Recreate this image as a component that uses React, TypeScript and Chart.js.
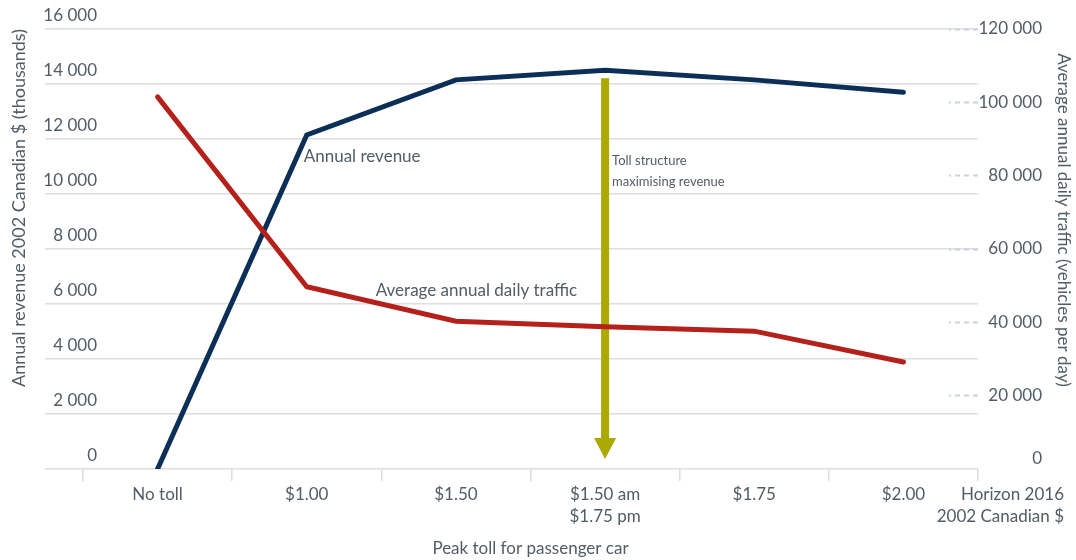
import React, { useEffect, useRef } from "react";
import { Chart, registerables } from "chart.js";

Chart.register(...registerables);

// Peak toll levels tested for the 2016 horizon (2002 Canadian $)
const tollLabels: (string | string[])[] = [
  "No toll",
  "$1.00",
  "$1.50",
  ["$1.50 am", "$1.75 pm"],
  "$1.75",
  "$2.00",
];

// Annual revenue, thousands of 2002 Canadian $
const annualRevenue = [0, 12150, 14150, 14500, 14150, 13700];

// Average annual daily traffic, vehicles per day
const dailyTraffic = [101500, 49700, 40300, 38800, 37600, 29200];

// Axis ranges and steps
const revenueMax = 16000;
const revenueStep = 2000;
const trafficMax = 120000;
const trafficStep = 20000;

// Toll level that maximises revenue
const bestTollIndex = 3;

const FONT = "Lato, 'Noto Sans', sans-serif";
const TEXT = "#525c65";
const NAVY = "#0b2f56";
const RED = "#b3211a";
const OLIVE = "#aca900";
const GRID = "#dedede";
const DASH = "#c9d3dd";
const TICK_SIZE = 17;

const W = 1076;
const H = 560;

const spaced = (v: number) =>
  String(v).replace(/\B(?=(\d{3})+(?!\d))/g, " ");

// Width of the widest revenue label, so the mirrored labels can be right-aligned
const widestRevenueLabel = (() => {
  const c = document.createElement("canvas").getContext("2d");
  if (!c) return 50;
  c.font = `${TICK_SIZE}px ${FONT}`;
  return c.measureText(spaced(revenueMax)).width;
})();

const notesPlugin = {
  id: "tollNotes",
  beforeDatasetsDraw(chart: any) {
    const { ctx, scales } = chart;
    const x = scales.x.getPixelForValue(bestTollIndex);
    const yTop = scales.yL.getPixelForValue(annualRevenue[bestTollIndex]) + 8;
    const yTip = scales.yL.getPixelForValue(0) - 10;
    const headLen = 21;
    const headHalf = 11;
    ctx.save();
    ctx.fillStyle = OLIVE;
    ctx.fillRect(x - 4, yTop, 8, yTip - headLen + 2 - yTop);
    ctx.beginPath();
    ctx.moveTo(x - headHalf, yTip - headLen);
    ctx.lineTo(x + headHalf, yTip - headLen);
    ctx.lineTo(x, yTip);
    ctx.closePath();
    ctx.fill();
    ctx.restore();
  },
  afterDraw(chart: any) {
    const { ctx, scales } = chart;
    const xs = scales.x;
    const yL = scales.yL;
    const yR = scales.yR;
    ctx.save();
    ctx.fillStyle = TEXT;
    ctx.textBaseline = "middle";

    ctx.font = `17px ${FONT}`;
    ctx.textAlign = "left";
    ctx.fillText(
      "Annual revenue",
      xs.getPixelForValue(1) - 3,
      yL.getPixelForValue(annualRevenue[1]) + 22
    );
    ctx.fillText(
      "Average annual daily traffic",
      xs.getPixelForValue(1) + 69,
      yR.getPixelForValue(dailyTraffic[1]) + 4
    );

    ctx.font = `13px ${FONT}`;
    const bx = xs.getPixelForValue(bestTollIndex) + 7;
    const by = yL.getPixelForValue(annualRevenue[bestTollIndex]);
    ctx.fillText("Toll structure", bx, by + 91);
    ctx.fillText("maximising revenue", bx, by + 112);

    // Horizon note beside the category axis
    ctx.font = `17px ${FONT}`;
    ctx.textAlign = "right";
    const base = yL.getPixelForValue(0);
    ctx.fillText("Horizon 2016", W - 12, base + 26);
    ctx.fillText("2002 Canadian $", W - 12, base + 48);

    // Right axis title
    ctx.font = `17px ${FONT}`;
    ctx.textAlign = "center";
    ctx.translate(W - 13, 220);
    ctx.rotate(Math.PI / 2);
    ctx.fillText("Average annual daily traffic (vehicles per day)", 0, 0);
    ctx.restore();
  },
};

export default function App() {
  const ref = useRef<HTMLCanvasElement | null>(null);

  useEffect(() => {
    if (!ref.current) return;
    const chart = new Chart(ref.current, {
      type: "line",
      data: {
        labels: tollLabels,
        datasets: [
          {
            label: "Annual revenue",
            data: annualRevenue,
            yAxisID: "yL",
            borderColor: NAVY,
            borderWidth: 5,
            borderCapStyle: "round",
            borderJoinStyle: "miter",
            pointRadius: 0,
            tension: 0,
            order: 2,
          },
          {
            label: "Average annual daily traffic",
            data: dailyTraffic,
            yAxisID: "yR",
            borderColor: RED,
            borderWidth: 5,
            borderCapStyle: "round",
            borderJoinStyle: "miter",
            pointRadius: 0,
            tension: 0,
            order: 1,
          },
        ],
      },
      options: {
        animation: false,
        responsive: false,
        devicePixelRatio: 1,
        layout: { padding: { top: 29, left: 0, right: 34, bottom: 0 } },
        plugins: {
          legend: { display: false },
          tooltip: { enabled: false },
        },
        scales: {
          x: {
            type: "category",
            offset: true,
            border: { display: false },
            grid: {
              offset: true,
              drawOnChartArea: false,
              drawTicks: true,
              tickLength: 12,
              color: GRID,
              lineWidth: 1.5,
            },
            ticks: {
              color: TEXT,
              font: { family: FONT, size: TICK_SIZE, lineHeight: 1.3 },
              padding: 2,
              maxRotation: 0,
              autoSkip: false,
            },
            title: {
              display: true,
              text: "Peak toll for passenger car",
              color: TEXT,
              font: { family: FONT, size: 17 },
              padding: { top: 0, bottom: 1 },
            },
            afterFit: (s: any) => {
              s.height = 91;
            },
          },
          yL: {
            type: "linear",
            position: "left",
            min: 0,
            max: revenueMax,
            border: { display: false },
            grid: {
              color: GRID,
              lineWidth: 1.5,
              drawTicks: true,
              tickLength: 38,
            },
            ticks: {
              stepSize: revenueStep,
              color: TEXT,
              font: { family: FONT, size: TICK_SIZE },
              mirror: true,
              crossAlign: "far",
              padding: 14 - widestRevenueLabel,
              labelOffset: -13,
              callback: (v: any) => spaced(Number(v)),
            },
            title: {
              display: true,
              text: "Annual revenue 2002 Canadian $ (thousands)",
              align: "end",
              color: TEXT,
              font: { family: FONT, size: 18 },
              padding: { top: 8, bottom: 0 },
            },
            afterFit: (s: any) => {
              s.width = 83;
            },
          },
          yR: {
            type: "linear",
            position: "right",
            min: 0,
            max: trafficMax,
            border: { display: false },
            grid: {
              drawOnChartArea: false,
              drawTicks: true,
              tickLength: -29,
              tickWidth: 2,
              tickBorderDash: [5, 4],
              tickColor: (c: any) =>
                c.tick && c.tick.value === 0 ? "rgba(0,0,0,0)" : DASH,
            },
            ticks: {
              stepSize: trafficStep,
              color: TEXT,
              font: { family: FONT, size: TICK_SIZE },
              crossAlign: "far",
              padding: 0,
              callback: (v: any) =>
                Number(v) === 0 ? ["0", ""] : spaced(Number(v)),
            },
            afterFit: (s: any) => {
              s.width = 64;
            },
          },
        },
      },
      plugins: [notesPlugin],
    } as any);
    return () => chart.destroy();
  }, []);

  return (
    <div
      style={{
        position: "fixed",
        left: 0,
        top: 0,
        width: W,
        height: H,
        background: "#ffffff",
      }}
    >
      <canvas ref={ref} width={W} height={H} />
    </div>
  );
}
